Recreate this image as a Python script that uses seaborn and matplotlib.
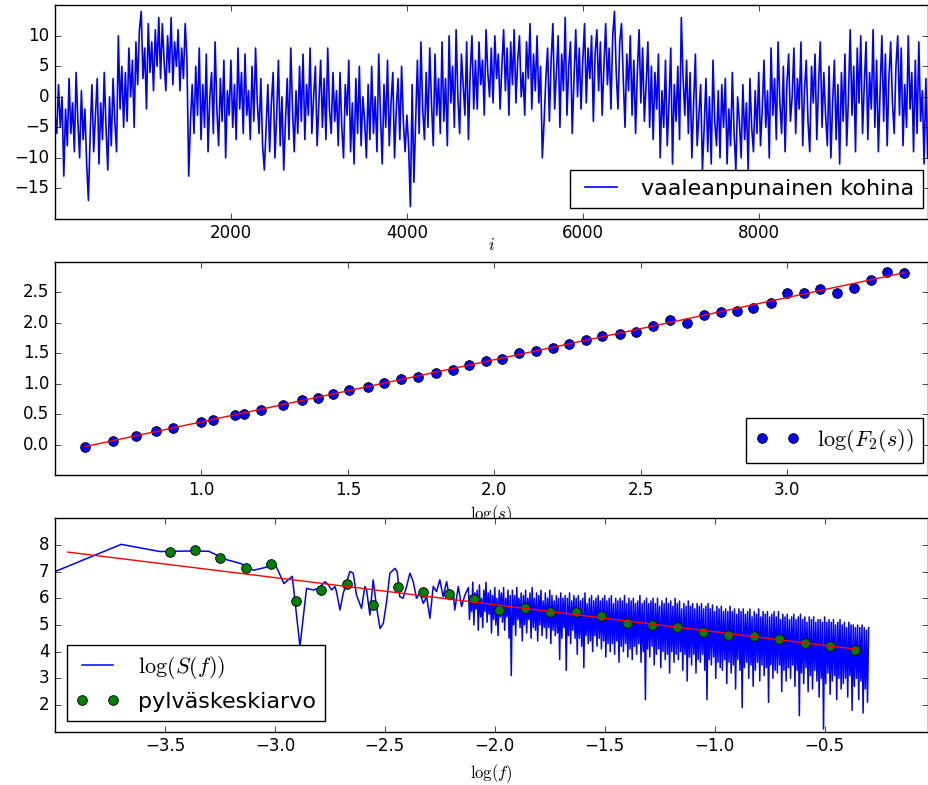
import numpy as np
import pandas as pd
import matplotlib
matplotlib.use("Agg")
import matplotlib.pyplot as plt
import seaborn as sns

# --- vanha matplotlib-tyyli (classic) ---
plt.style.use("classic")
plt.rcParams.update({
    "figure.facecolor": "white",
    "savefig.facecolor": "white",
    "legend.fontsize": 16,
})

# --- 1. vaaleanpunainen kohina (luettu kuvasta joka 20. näyte) ---
noise_step = 20
noise = [
    -3, -6, 2, -5, 0, -13, -2, -8, 3, -6, -1, -9, 4, -4, -10, 1, -7, -2, -11, -17,
    -6, 2, -9, -3, 3, -11, -1, -7, 4, -5, -12, 0, -8, 3, -4, -9, 10, -2, 5, -5,
    4, -4, 8, 0, 6, -5, 9, 2, 11, 14, 3, 8, -2, 12, 4, 9, 1, 11, 5, 13,
    3, 12, 6, 1, 10, 4, 13, 2, 9, 5, 11, 1, 8, 3, 12, 6, -13, -4, 2, -6,
    5, -3, 8, -7, 2, -5, 7, -9, 0, 4, -6, 9, -2, -8, 3, -4, 6, -10, 1, -3,
    6, -5, 2, -7, 8, -2, 4, -6, 7, -3, 1, -7, 5, -4, 8, -1, -6, 3, -8, -12,
    -5, 2, -9, -1, 4, -10, -3, 6, -8, 0, -12, -4, 3, -7, 8, -2, -9, 1, -6, 5,
    -4, 7, -7, 2, -3, 8, -6, 0, 5, -8, -1, 6, -5, 3, -7, 8, -2, -6, 4, -4,
    1, -8, 4, -5, -10, 2, -3, 6, -9, -1, -11, 3, -6, 5, -8, 0, -4, -10, 2, -7,
    5, -6, 0, -9, 7, -3, -11, 2, -5, 6, -8, -1, 4, -10, -2, 3, -7, 5, -4, -9,
    -3, -8, -18, 2, -14, -4, 6, -6, 9, -2, -7, 4, -5, 8, -1, -8, 7, -3, 3, -6,
    9, -4, 3, -8, 10, -1, 5, -5, 11, 0, -6, 7, 2, -3, 9, -7, 4, 10, -2, 6,
    -2, 9, 2, 6, -3, 11, 4, 0, 8, -1, 10, 3, 7, -2, 5, 11, 1, 8, -3, 9,
    2, 11, -1, 6, 10, 0, 4, -3, 9, 3, 12, -2, 7, 1, 10, -1, 5, -10, -4, 3,
    8, -4, 6, 12, -2, 4, 10, -5, 7, 1, 13, -3, 5, 9, -6, 3, 11, 0, 8, -2,
    6, 12, -1, 8, 3, 10, -4, 7, 11, 1, 9, -3, 5, 12, 2, 8, -2, 10, 14, 4,
    -2, 9, 12, 3, -5, 7, 1, 10, -3, 6, -6, 4, 11, -1, 8, -4, 2, 9, -5, 5,
    -7, 4, -2, 7, -10, 1, -5, 6, -8, -1, 8, -11, 2, -4, 5, -7, 13, 3, -3, 6,
    -6, 4, -10, -1, 7, -8, -3, 2, -12, -5, 3, -9, 0, -11, 6, -4, -8, 1, -10, 2,
    -5, 3, -11, -2, -8, 4, -6, -12, 0, -4, -10, 2, -7, -1, -12, 3, -5, -9, 1, -6,
    4, -8, -2, 6, -5, 1, -10, 8, -3, 3, -7, 9, -1, -6, 5, -9, 2, 7, -4, 0,
    8, -6, 3, -2, 9, -8, 1, 6, -4, -9, 5, -1, 7, -7, 2, 9, -5, 4, -3, -8,
    5, -10, -1, 6, -7, 2, -11, 4, -4, 7, -8, 0, 11, -3, 5, -9, 8, -1, 10, -6,
    2, 9, -7, 4, -2, 11, -5, 6, -9, 1, 10, -4, 7, -8, 3, 9, -1, -6, 5, 10,
    -3, 8, -8, 2, -5, 10, -2, 4, -9, 6, -6, 9, -4, 1, -11, 3, -10,
]

# --- 2. DFA: log(s), log(F2(s)) ---
log_s = [0.602, 0.699, 0.778, 0.845, 0.903, 1.0, 1.041, 1.114, 1.146, 1.204,
         1.279, 1.342, 1.399, 1.448, 1.505, 1.568, 1.624, 1.681, 1.740, 1.799,
         1.857, 1.914, 1.970, 2.026, 2.083, 2.141, 2.200, 2.255, 2.311, 2.368,
         2.428, 2.485, 2.542, 2.599, 2.656, 2.715, 2.772, 2.827, 2.883, 2.943,
         2.999, 3.056, 3.113, 3.170, 3.227, 3.285, 3.341, 3.398]
log_F2 = [-0.04, 0.07, 0.15, 0.22, 0.28, 0.37, 0.41, 0.49, 0.51, 0.57,
          0.66, 0.73, 0.77, 0.83, 0.89, 0.95, 1.01, 1.07, 1.11, 1.17,
          1.23, 1.30, 1.37, 1.41, 1.51, 1.54, 1.59, 1.66, 1.71, 1.78,
          1.81, 1.85, 1.94, 2.04, 2.00, 2.12, 2.18, 2.19, 2.25, 2.33,
          2.48, 2.48, 2.56, 2.49, 2.57, 2.70, 2.84, 2.82]
dfa_fit_x = [0.602, 3.398]
dfa_fit_y = [-0.03, 2.82]

# --- 3. tehospektri log(S(f)) ---
# harvat matalat taajuudet
spec_x = [-4.0, -3.699, -3.523, -3.398, -3.301, -3.222, -3.155, -3.097, -3.046, -3.0,
          -2.959, -2.921, -2.886, -2.856, -2.826, -2.803, -2.772, -2.757, -2.742, -2.727,
          -2.720, -2.704, -2.689, -2.659, -2.644, -2.629, -2.606, -2.591, -2.583, -2.568,
          -2.553, -2.538, -2.522, -2.507, -2.492, -2.477, -2.454, -2.444, -2.432, -2.417,
          -2.401, -2.386, -2.371, -2.356, -2.341, -2.325, -2.310, -2.295, -2.280, -2.265,
          -2.250, -2.235, -2.219, -2.204, -2.189, -2.182, -2.166, -2.151, -2.136]
spec_y = [7.0, 8.02, 7.75, 7.77, 7.76, 7.45, 7.3, 7.05, 7.15, 7.3,
          6.55, 6.82, 4.2, 6.37, 6.31, 6.37, 6.62, 6.50, 6.31, 6.44,
          6.25, 5.56, 6.19, 7.00, 6.94, 6.12, 5.62, 6.44, 6.31, 5.37,
          6.69, 5.69, 4.87, 5.06, 5.87, 6.94, 7.12, 7.00, 6.06, 6.00,
          6.44, 6.94, 6.62, 6.00, 6.19, 5.81, 6.06, 5.25, 6.44, 6.25,
          6.69, 6.06, 6.62, 5.94, 6.25, 5.56, 6.44, 5.69, 6.12]
# tiheä osa, luettu 0.005 välein alkaen log(f) = -2.12
dense_start = -2.12
dense_step = 0.005
dense_y = [
    6.4, 5.2, 6.1, 5.5, 6.6, 5.0, 6.2, 5.6, 6.3, 4.8,
    6.5, 5.3, 6.0, 4.9, 6.3, 5.5, 6.6, 5.1, 6.2, 5.4,
    6.3, 4.7, 6.1, 5.2, 6.4, 5.0, 6.0, 4.6, 6.3, 5.3,
    6.2, 5.1, 6.4, 4.8, 6.0, 5.3, 6.3, 4.5, 6.1, 3.1,
    6.3, 5.0, 6.1, 4.6, 6.4, 5.2, 6.0, 4.9, 6.2, 4.4,
    6.1, 5.0, 6.3, 4.7, 6.0, 5.2, 6.2, 4.5, 6.4, 4.9,
    6.0, 4.8, 6.2, 4.4, 6.1, 5.0, 6.3, 4.6, 5.9, 4.9,
    6.2, 4.5, 6.0, 4.9, 6.3, 4.3, 6.1, 4.8, 5.9, 4.6,
    6.1, 4.7, 6.0, 3.7, 6.2, 4.5, 6.0, 4.9, 6.1, 3.3,
    6.0, 4.6, 6.2, 4.3, 5.9, 4.8, 6.1, 4.5, 6.0, 3.9,
    6.1, 4.5, 5.9, 4.2, 6.0, 3.4, 6.2, 4.6, 5.8, 4.3,
    6.0, 4.4, 6.1, 4.0, 5.9, 4.6, 6.0, 4.2, 6.1, 4.5,
    5.9, 4.1, 6.0, 4.4, 6.1, 3.8, 5.9, 4.3, 6.0, 4.0,
    6.1, 4.3, 5.8, 3.9, 6.0, 4.4, 5.9, 3.6, 6.0, 4.2,
    5.9, 4.0, 6.1, 4.3, 5.8, 3.8, 6.0, 4.1, 5.9, 3.7,
    6.0, 4.2, 5.8, 3.9, 5.9, 4.3, 6.1, 3.6, 5.8, 4.0,
    5.9, 2.2, 6.0, 4.1, 5.8, 3.8, 5.9, 4.2, 6.0, 3.5,
    5.8, 3.9, 6.0, 4.1, 5.7, 3.4, 5.9, 4.0, 5.8, 3.7,
    6.0, 3.9, 5.8, 3.2, 5.9, 4.0, 5.7, 3.6, 6.0, 3.9,
    5.8, 3.7, 5.9, 4.0, 5.6, 3.3, 5.8, 3.9, 5.7, 2.9,
    5.9, 3.8, 5.7, 3.5, 5.8, 3.9, 5.6, 3.2, 5.8, 3.7,
    5.7, 3.6, 5.8, 3.9, 5.6, 3.3, 5.7, 2.2, 5.8, 3.7,
    5.6, 3.5, 5.75, 3.8, 5.5, 3.0, 5.7, 3.6, 5.6, 3.4,
    5.7, 3.3, 5.5, 3.7, 5.6, 2.8, 5.5, 3.6, 5.7, 3.2,
    5.5, 3.5, 5.6, 2.6, 5.4, 3.7, 5.6, 3.3, 5.5, 1.9,
    5.6, 3.4, 5.4, 3.6, 5.5, 3.0, 5.6, 3.5, 5.3, 2.7,
    5.5, 3.3, 5.4, 3.6, 5.6, 2.9, 5.3, 3.5, 5.5, 3.1,
    5.4, 3.4, 5.5, 2.1, 5.3, 3.5, 5.4, 3.0, 5.5, 3.3,
    5.3, 3.2, 5.5, 3.5, 5.2, 2.5, 5.4, 3.3, 5.3, 2.9,
    5.4, 3.4, 5.2, 3.0, 5.3, 3.5, 5.4, 2.7, 5.2, 3.3,
    5.3, 1.6, 5.4, 3.2, 5.2, 2.8, 5.3, 3.4, 5.1, 2.5,
    5.3, 3.1, 5.2, 2.6, 5.3, 3.3, 5.1, 2.9, 5.2, 2.3,
    5.2, 3.0, 5.1, 1.1, 5.3, 2.8, 5.1, 3.2, 5.2, 2.4,
    5.1, 2.9, 5.2, 3.1, 5.0, 2.2, 5.1, 3.0, 5.2, 2.6,
    5.0, 2.8, 5.1, 3.0, 4.9, 2.3, 5.1, 3.1, 5.0, 1.8,
    5.0, 2.7, 4.9, 3.0, 5.0, 2.2, 4.9, 2.9, 5.0, 1.7,
    4.9, 2.6, 4.8, 2.1, 4.9,
]
# pylväskeskiarvot
bin_x = [-3.477, -3.364, -3.25, -3.133, -3.018, -2.903, -2.79, -2.67, -2.556, -2.442,
         -2.326, -2.209, -2.095, -1.98, -1.864, -1.747, -1.632, -1.515, -1.401, -1.286,
         -1.17, -1.053, -0.94, -0.823, -0.708, -0.591, -0.477, -0.36]
bin_y = [7.75, 7.79, 7.52, 7.13, 7.28, 5.90, 6.31, 6.54, 5.75, 6.41,
         6.25, 6.16, 5.96, 5.56, 5.65, 5.48, 5.48, 5.35, 5.09, 5.00,
         4.91, 4.73, 4.63, 4.60, 4.48, 4.34, 4.22, 4.06]
spec_fit_x = [-3.942, -0.358]
spec_fit_y = [7.73, 4.09]

# --- data taulukoiksi ---
df_noise = pd.DataFrame({"i": np.arange(len(noise)) * noise_step, "x": noise})
dense_x = dense_start + dense_step * np.arange(len(dense_y))
df_spec = pd.DataFrame({"logf": np.concatenate([spec_x, dense_x]),
                        "logS": np.concatenate([spec_y, dense_y])})

fig, axes = plt.subplots(3, 1, figsize=(9.29, 7.85), dpi=100)
fig.subplots_adjust(left=0.0592, right=0.9989, top=0.9932, bottom=0.0679, hspace=0.201)

marker_kw = dict(marker="o", linestyle="none", markersize=7,
                 markeredgecolor="black", markeredgewidth=0.6)

# --- paneeli 1 ---
ax = axes[0]
sns.lineplot(data=df_noise, x="i", y="x", ax=ax, color="b", lw=1.2,
             sort=False, estimator=None, label="vaaleanpunainen kohina")
ax.set_xlim(0, 9924)
ax.set_ylim(-20, 15)
ax.set_yticks([-15, -10, -5, 0, 5, 10])
ax.set_xticks([2000, 4000, 6000, 8000])
ax.set_xlabel(r"$i$", labelpad=-4.5)
ax.set_ylabel("")
ax.legend(loc="lower right", bbox_to_anchor=(0.9943, 0.0531), borderaxespad=0)

# --- paneeli 2 ---
ax = axes[1]
sns.lineplot(x=log_s, y=log_F2, ax=ax, color="b", sort=False, estimator=None,
             label=r"$\log(F_2(s))$", **marker_kw)
sns.lineplot(x=dfa_fit_x, y=dfa_fit_y, ax=ax, color="r", lw=1, sort=False,
             estimator=None, legend=False)
ax.set_xlim(0.5, 3.48)
ax.set_ylim(-0.5, 3.0)
ax.set_yticks([0.0, 0.5, 1.0, 1.5, 2.0, 2.5])
ax.set_xticks([1.0, 1.5, 2.0, 2.5, 3.0])
ax.set_xlabel(r"$\log(s)$", labelpad=3)
ax.set_ylabel("")
h = [l for l in ax.get_lines() if not l.get_label().startswith("_")]
ax.legend(handles=h[:1], loc="lower right", bbox_to_anchor=(0.9943, 0.0594),
          borderaxespad=0)

# --- paneeli 3 ---
ax = axes[2]
sns.lineplot(data=df_spec, x="logf", y="logS", ax=ax, color="b", lw=1.1,
             sort=False, estimator=None, label=r"$\log(S(f))$")
sns.lineplot(x=bin_x, y=bin_y, ax=ax, color="g", sort=False, estimator=None,
             label="pylväskeskiarvo", **marker_kw)
sns.lineplot(x=spec_fit_x, y=spec_fit_y, ax=ax, color="r", lw=1, sort=False,
             estimator=None, legend=False)
ax.set_xlim(-4.0, -0.03)
ax.set_ylim(1, 9)
ax.set_yticks([2, 3, 4, 5, 6, 7, 8])
ax.set_xticks([-3.5, -3.0, -2.5, -2.0, -1.5, -1.0, -0.5])
ax.set_xlabel(r"$\log(f)$")
ax.set_ylabel("")
h = [l for l in ax.get_lines() if not l.get_label().startswith("_")]
ax.legend(handles=h[:2], loc="lower left", bbox_to_anchor=(0.0134, 0.0515),
          borderaxespad=0)

fig.savefig("out.png", dpi=100)
